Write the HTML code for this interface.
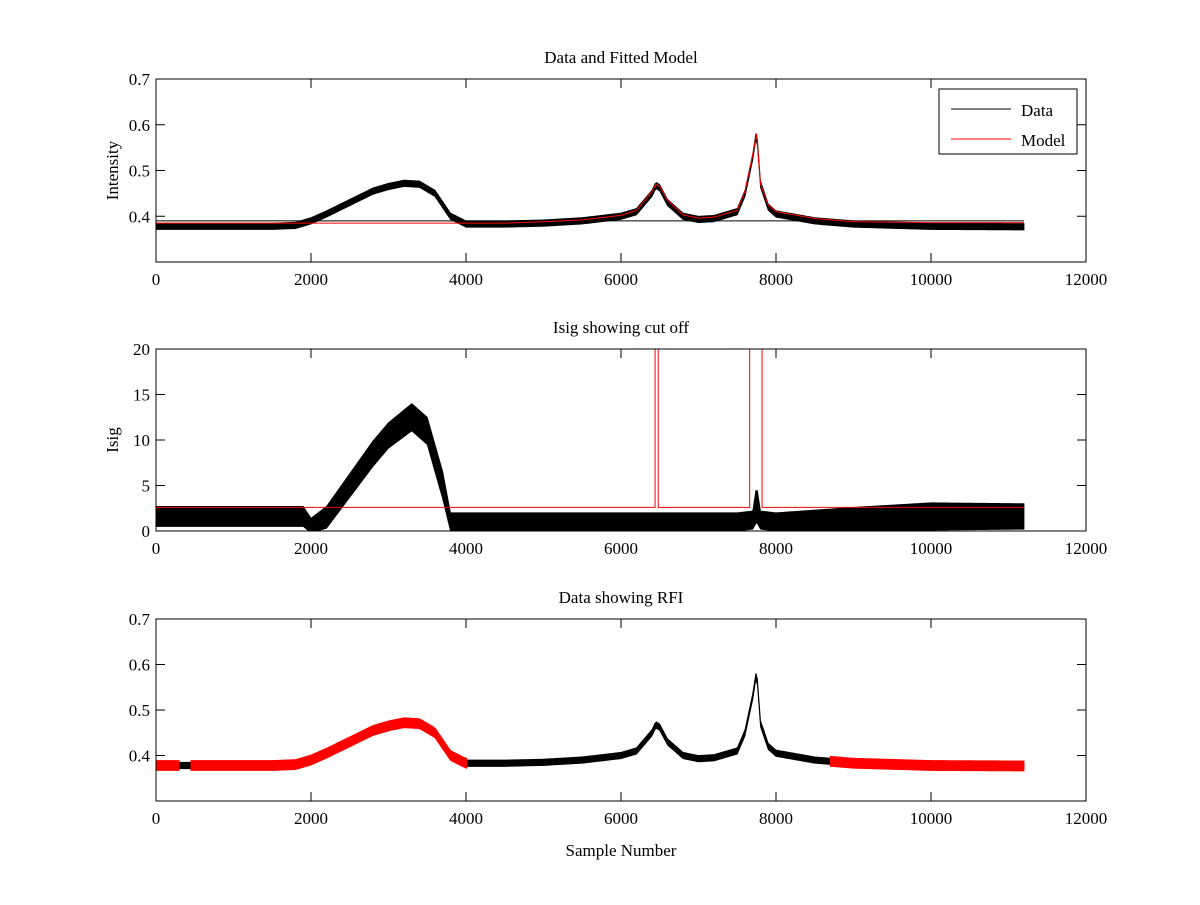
<!DOCTYPE html>
<html><head><meta charset="utf-8"><style>
body{margin:0;background:#fff}
svg text{font-family:"Liberation Serif",serif;font-size:17px;fill:#000}
</style></head><body>
<svg id="fig" width="1200" height="900"></svg>
<script>
const xs=[0,500,1000,1500,1800,2000,2200,2500,2800,3000,3200,3400,3600,3800,4000,4500,5000,5500,6000,6200,6400,6450,6500,6600,6800,7000,7200,7500,7600,7700,7750,7800,7900,8000,8500,9000,10000,11200];
const dataMean=[0.378,0.378,0.378,0.378,0.38,0.39,0.405,0.43,0.455,0.465,0.472,0.47,0.45,0.40,0.383,0.383,0.385,0.39,0.40,0.41,0.45,0.468,0.462,0.43,0.40,0.393,0.395,0.41,0.45,0.53,0.585,0.47,0.42,0.405,0.39,0.383,0.378,0.377];
const modelVals=[0.385,0.385,0.385,0.385,0.385,0.385,0.385,0.385,0.385,0.385,0.385,0.385,0.385,0.385,0.385,0.385,0.388,0.392,0.402,0.413,0.455,0.47,0.465,0.435,0.403,0.396,0.398,0.413,0.455,0.535,0.58,0.47,0.425,0.41,0.395,0.388,0.386,0.386];
const dataHalf=0.007;
const isigX=[0,1900,2000,2200,2500,2800,3000,3300,3500,3700,3800,4000,6000,7500,7700,7750,7800,8000,9000,10000,11200];
const isigMean=[1.6,1.6,0.6,1.5,5,8.5,10.5,12.5,11,5,1,1,1,1,1.2,3,1.2,1,1.3,1.6,1.6];
const isigHalf=[1.1,1.1,0.8,1.2,1.3,1.4,1.4,1.5,1.5,1.5,1,1,1,1,1,2,1,1,1.3,1.5,1.4];
const thrX=[0,6440,6440,6480,6480,7660,7660,7820,7820,11200];
const thrY=[2.6,2.6,25,25,2.6,2.6,25,25,2.6,2.6];
const rfiRanges=[[0,300],[450,4020],[8700,11200]];
const NS="http://www.w3.org/2000/svg";
const svg=document.getElementById('fig');
function el(t,a,p){const e=document.createElementNS(NS,t);for(const k in a)e.setAttribute(k,a[k]);(p||svg).appendChild(e);return e;}
function interp(X,Y,x){for(let i=1;i<X.length;i++){if(x<=X[i]){const t=(x-X[i-1])/(X[i]-X[i-1]||1);return Y[i-1]+t*(Y[i]-Y[i-1]);}}return Y[Y.length-1];}
const L=156,R=1086;
function sx(v){return L+(v/12000)*(R-L);}
function axes(top,bot,ymin,ymax,yt,name,title,ylabel,xlabel){
 const sy=v=>bot-(v-ymin)/(ymax-ymin)*(bot-top);
 const g=el('g',{});
 el('rect',{x:L,y:top,width:R-L,height:bot-top,fill:'#fff',stroke:'none'},g);
 return {g,sy,top,bot,yt,title,ylabel,xlabel};
}
function frame(a){
 const g=el('g',{});
 el('rect',{x:L,y:a.top,width:R-L,height:a.bot-a.top,fill:'none',stroke:'#000','stroke-width':1},g);
 for(let v=0;v<=12000;v+=2000){const x=sx(v);
  el('line',{x1:x,x2:x,y1:a.bot,y2:a.bot-9,stroke:'#000'},g);el('line',{x1:x,x2:x,y1:a.top,y2:a.top+9,stroke:'#000'},g);
  const t=el('text',{x:x,y:a.bot+23,'text-anchor':'middle'},g);t.textContent=v;}
 a.yt.forEach(v=>{const y=a.sy(v);
  el('line',{x1:L,x2:L+9,y1:y,y2:y,stroke:'#000'},g);el('line',{x1:R,x2:R-9,y1:y,y2:y,stroke:'#000'},g);
  const t=el('text',{x:L-6,y:y+6,'text-anchor':'end'},g);t.textContent=v;});
 const tt=el('text',{x:(L+R)/2,y:a.top-16,'text-anchor':'middle'},g);tt.textContent=a.title;
 if(a.ylabel){const yl=el('text',{x:0,y:0,'text-anchor':'middle',transform:`translate(118,${(a.top+a.bot)/2}) rotate(-90)`},g);yl.textContent=a.ylabel;}
 if(a.xlabel){const xl=el('text',{x:(L+R)/2,y:a.bot+55,'text-anchor':'middle'},g);xl.textContent=a.xlabel;}
}
function band(a,X,M,H,x0,x1,color,name){
 let up=[],dn=[];for(let x=x0;x<=x1;x+=20){const m=interp(X,M,x),h=typeof H==='number'?H:interp(X,H,x);up.push(sx(x)+','+a.sy(m+h));dn.unshift(sx(x)+','+a.sy(m-h));}
 const p=el('polygon',{points:up.concat(dn).join(' '),fill:color,stroke:color,'stroke-width':0.8},a.g);
 
}
function line(a,X,Y,color,name){
 const pts=X.map((x,i)=>sx(x)+','+a.sy(Y[i])).join(' ');
 const p=el('polyline',{points:pts,fill:'none',stroke:color,'stroke-width':1},a.g);
 
}
const a1=axes(79,262,0.3,0.7,[0.4,0.5,0.6,0.7],'plot-data-model','Data and Fitted Model','Intensity');
band(a1,xs,dataMean,dataHalf,0,11200,'#000','data-series');
line(a1,[0,11200],[0.39,0.39],'#000','data-baseline');
line(a1,xs,modelVals,'#f00','model-series');
frame(a1);
const lg=el('g',{});
el('rect',{x:939,y:89,width:138,height:65,fill:'#fff',stroke:'#000'},lg);
el('line',{x1:951,x2:1011,y1:109,y2:109,stroke:'#000'},lg);
el('line',{x1:951,x2:1011,y1:139,y2:139,stroke:'#f00'},lg);
let t=el('text',{x:1021,y:116},lg);t.textContent='Data';
t=el('text',{x:1021,y:146},lg);t.textContent='Model';
const a2=axes(349,531,0,20,[0,5,10,15,20],'plot-isig','Isig showing cut off','Isig');
const cp=el('clipPath',{id:'c2'});el('rect',{x:L,y:349,width:R-L,height:182},cp);a2.g.setAttribute('clip-path','url(#c2)');
band(a2,isigX,isigMean,isigHalf,0,11200,'#000','isig-series');
line(a2,thrX,thrY,'#f00','cutoff-line');
frame(a2);
const a3=axes(619,801,0.3,0.7,[0.4,0.5,0.6,0.7],'plot-rfi','Data showing RFI',null,'Sample Number');
band(a3,xs,dataMean,dataHalf,0,11200,'#000','data-series');
rfiRanges.forEach(r=>band(a3,xs,dataMean,0.011,r[0],r[1],'#f00','rfi-segment'));
frame(a3);
</script>
</body></html>
